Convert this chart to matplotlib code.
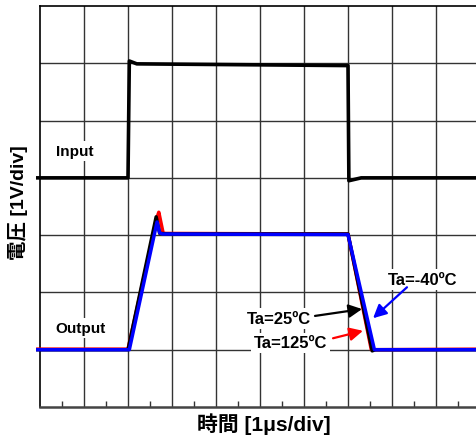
import matplotlib.pyplot as plt

plt.rcParams['font.family'] = ['Liberation Sans', 'Noto Sans CJK JP']
plt.rcParams['font.weight'] = 'bold'

# time axis in divisions (1 us/div), voltage in divisions (1 V/div)
t_input = [-0.05, 2.0, 2.03, 2.2, 7.0, 7.02, 7.3, 10.2]
v_input = [4.0, 4.0, 6.04, 5.99, 5.96, 3.95, 4.0, 4.0]

t_125 = [-0.05, 2.0, 2.67, 2.70, 2.80, 7.0, 7.53, 10.2]
v_125 = [1.01, 1.01, 3.33, 3.40, 3.03, 3.02, 1.0, 1.01]

t_25 = [-0.05, 2.0, 2.64, 2.72, 3.0, 7.0, 7.55, 7.62, 10.2]
v_25 = [1.0, 1.0, 3.32, 3.03, 3.02, 3.02, 0.98, 1.0, 1.0]

t_m40 = [-0.05, 2.03, 2.66, 2.72, 2.78, 7.0, 7.60, 10.2]
v_m40 = [1.0, 1.0, 3.23, 3.04, 3.02, 3.01, 1.0, 1.0]

W, H = 477, 439
fig = plt.figure(figsize=(W / 100, H / 100), dpi=100)
ax = fig.add_axes([40 / W, (H - 408) / H, 440 / W, 401 / H])
ax.set_xlim(0, 10)
ax.set_ylim(0, 7)

# scope grid
for gx in range(1, 10):
    ax.axvline(gx, color='#333333', lw=1, zorder=1)
for gy in range(1, 7):
    ax.axhline(gy, color='#333333', lw=1, zorder=1)

ax.set_xticks([])
ax.set_yticks([])
ax.set_xticks([i + 0.5 for i in range(10)], minor=True)
ax.tick_params(axis='x', which='minor', direction='in', length=4, width=1, color='#333333')
for s in ['left', 'top', 'right']:
    ax.spines[s].set_linewidth(1.2)
ax.spines['bottom'].set_linewidth(1.8)
ax.spines['bottom'].set_color('#444444')

ax.plot(t_input, v_input, color='black', lw=2.6, clip_on=False, zorder=3)
ax.plot(t_125, v_125, color='red', lw=2.5, clip_on=False, zorder=3)
ax.plot(t_25, v_25, color='black', lw=2.5, clip_on=False, zorder=4)
ax.plot(t_m40, v_m40, color='blue', lw=2.5, clip_on=False, zorder=5)

box = dict(facecolor='white', edgecolor='none', pad=2)
ax.text(0.80, 4.47, 'Input', fontsize=11, ha='center', va='center', bbox=box, zorder=6)
ax.text(0.93, 1.38, 'Output', fontsize=11, ha='center', va='center', bbox=box, zorder=6)


def arrow(c):
    return dict(arrowstyle='-|>', color=c, lw=1.6, mutation_scale=20, shrinkA=0, shrinkB=0)


ax.text(8.70, 2.22, 'Ta=-40ºC', fontsize=12, ha='center', va='center', bbox=box, zorder=6)
ax.annotate('', xy=(7.57, 1.55), xytext=(8.34, 2.09), arrowprops=arrow('blue'), zorder=6)
ax.text(5.43, 1.54, 'Ta=25ºC', fontsize=12, ha='center', va='center', bbox=box, zorder=6)
ax.annotate('', xy=(7.32, 1.71), xytext=(6.25, 1.59), arrowprops=arrow('black'), zorder=6)
ax.text(5.70, 1.12, 'Ta=125ºC', fontsize=12, ha='center', va='center', bbox=box, zorder=6)
ax.annotate('', xy=(7.34, 1.33), xytext=(6.66, 1.20), arrowprops=arrow('red'), zorder=6)

fig.text(264 / W, 1 - 424 / H, '時間 [1μs/div]', fontsize=15, ha='center', va='center')
fig.text(18 / W, 1 - 203 / H, '電圧 [1V/div]', fontsize=14, ha='center', va='center', rotation=90)

fig.savefig('out.png', dpi=100)
